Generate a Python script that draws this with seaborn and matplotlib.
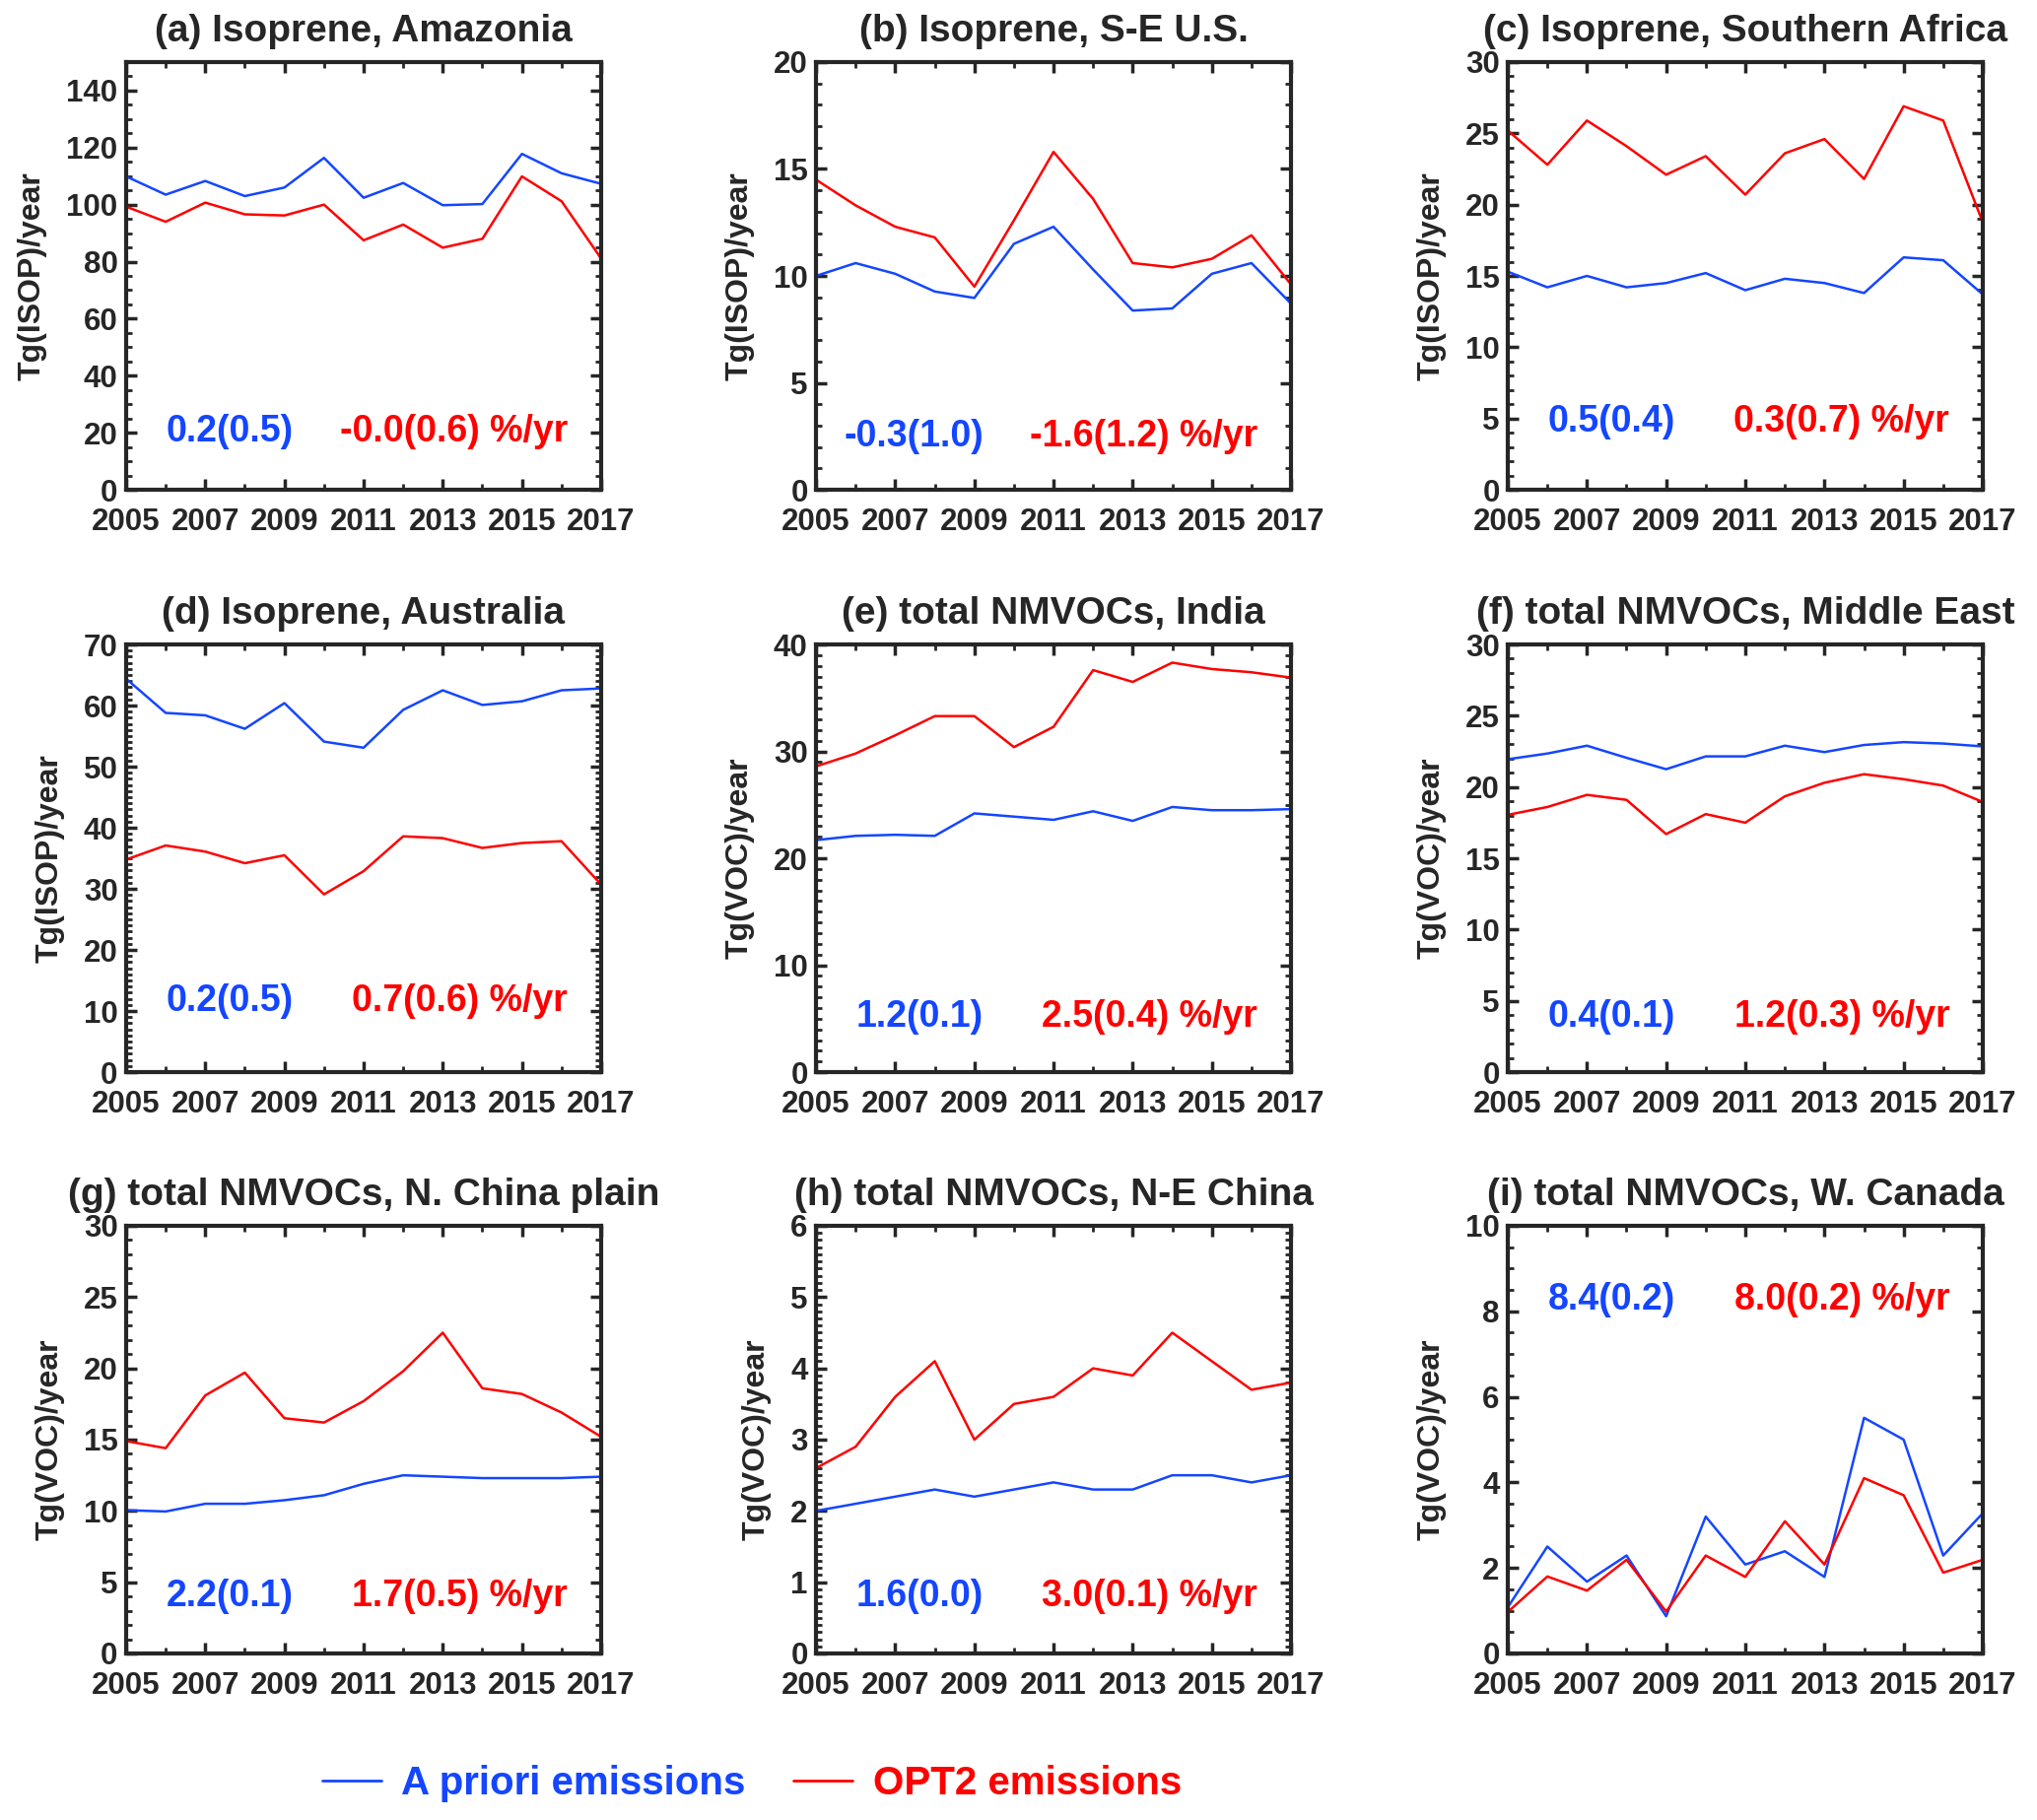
import pandas as pd
import seaborn as sns
import matplotlib.pyplot as plt
from matplotlib.ticker import MultipleLocator, FixedLocator

years = list(range(2005, 2018))
year_ticks = years[::2]

titles = ["(a) Isoprene, Amazonia", "(b) Isoprene, S-E U.S.", "(c) Isoprene, Southern Africa",
          "(d) Isoprene, Australia", "(e) total NMVOCs, India", "(f) total NMVOCs, Middle East",
          "(g) total NMVOCs, N. China plain", "(h) total NMVOCs, N-E China", "(i) total NMVOCs, W. Canada"]
ylabels = ["Tg(ISOP)/year"] * 4 + ["Tg(VOC)/year"] * 5

# A priori emissions
apriori_amazonia = [109.9, 103.5, 108.3, 103.0, 106.0, 116.4, 102.4, 107.6, 99.8, 100.2, 117.8, 111.0, 107.3]
apriori_se_us = [10.0, 10.6, 10.1, 9.27, 8.97, 11.5, 12.3, 10.3, 8.38, 8.48, 10.1, 10.6, 8.7]
apriori_s_africa = [15.3, 14.2, 15.0, 14.2, 14.5, 15.2, 14.0, 14.8, 14.5, 13.8, 16.3, 16.1, 13.7]
apriori_australia = [64.4, 58.8, 58.4, 56.2, 60.4, 54.1, 53.1, 59.3, 62.5, 60.1, 60.7, 62.5, 62.8]
apriori_india = [21.7, 22.1, 22.2, 22.1, 24.2, 23.9, 23.6, 24.4, 23.5, 24.8, 24.5, 24.5, 24.6]
apriori_mideast = [21.95, 22.35, 22.9, 22.05, 21.25, 22.15, 22.15, 22.9, 22.45, 22.95, 23.15, 23.05, 22.85]
apriori_ncp = [10.05, 9.96, 10.5, 10.5, 10.75, 11.1, 11.9, 12.5, 12.4, 12.3, 12.3, 12.3, 12.4]
apriori_ne_china = [2.0, 2.1, 2.2, 2.3, 2.2, 2.3, 2.4, 2.3, 2.3, 2.5, 2.5, 2.4, 2.5]
apriori_w_canada = [1.08, 2.5, 1.68, 2.29, 0.87, 3.2, 2.08, 2.39, 1.79, 5.51, 5.0, 2.29, 3.28]

# OPT2 emissions
opt2_amazonia = [99.3, 94.0, 100.7, 96.6, 96.2, 100.0, 87.5, 93.0, 84.9, 88.0, 109.9, 101.2, 81.1]
opt2_se_us = [14.5, 13.3, 12.3, 11.8, 9.5, 12.6, 15.8, 13.6, 10.6, 10.4, 10.8, 11.9, 9.6]
opt2_s_africa = [25.2, 22.8, 25.9, 24.1, 22.1, 23.4, 20.7, 23.6, 24.6, 21.8, 26.9, 25.9, 18.75]
opt2_australia = [34.8, 37.1, 36.1, 34.2, 35.5, 29.1, 32.9, 38.6, 38.3, 36.7, 37.5, 37.8, 30.7]
opt2_india = [28.6, 29.8, 31.5, 33.3, 33.3, 30.4, 32.3, 37.6, 36.5, 38.3, 37.7, 37.4, 36.9]
opt2_mideast = [18.05, 18.6, 19.45, 19.1, 16.7, 18.1, 17.5, 19.35, 20.3, 20.9, 20.55, 20.1, 18.95]
opt2_ncp = [14.9, 14.4, 18.1, 19.7, 16.5, 16.2, 17.7, 19.8, 22.5, 18.6, 18.2, 16.9, 15.2]
opt2_ne_china = [2.6, 2.9, 3.6, 4.1, 3.0, 3.5, 3.6, 4.0, 3.9, 4.5, 4.1, 3.7, 3.8]
opt2_w_canada = [0.97, 1.8, 1.47, 2.19, 0.98, 2.29, 1.79, 3.09, 2.08, 4.1, 3.7, 1.89, 2.19]

# trends in %/yr (std)
trend_apriori = ["0.2(0.5)", "-0.3(1.0)", "0.5(0.4)", "0.2(0.5)", "1.2(0.1)",
                 "0.4(0.1)", "2.2(0.1)", "1.6(0.0)", "8.4(0.2)"]
trend_opt2 = ["-0.0(0.6)", "-1.6(1.2)", "0.3(0.7)", "0.7(0.6)", "2.5(0.4)",
              "1.2(0.3)", "1.7(0.5)", "3.0(0.1)", "8.0(0.2)"]

apriori = [apriori_amazonia, apriori_se_us, apriori_s_africa, apriori_australia, apriori_india,
           apriori_mideast, apriori_ncp, apriori_ne_china, apriori_w_canada]
opt2 = [opt2_amazonia, opt2_se_us, opt2_s_africa, opt2_australia, opt2_india,
        opt2_mideast, opt2_ncp, opt2_ne_china, opt2_w_canada]

# axis settings
ytops = [150, 20, 30, 70, 40, 30, 30, 6, 10]
ymajor = [20, 5, 5, 10, 10, 5, 5, 1, 2]
yminor = [5, 1, 1, 1, 1, 1, 1, 0.1, 0.5]
text_y = [0.135, 0.125, 0.158, 0.167, 0.13, 0.13, 0.133, 0.133, 0.826]

blue = "#1446ff"
red = "#ff0000"
palette = {"A priori emissions": blue, "OPT2 emissions": red}

sns.set_style("ticks")
plt.rcParams['font.family'] = ['Liberation Sans', 'DejaVu Sans']
plt.rcParams['font.weight'] = 'bold'
plt.rcParams['axes.labelweight'] = 'bold'
plt.rcParams['axes.titleweight'] = 'bold'

fig = plt.figure(figsize=(20.67, 18.47), dpi=100)
lefts = [0.0619, 0.4006, 0.7402]
bottoms = [0.7309, 0.4109, 0.0915]
w, h = 0.2332, 0.235

handles = None
for i in range(9):
    r, c = divmod(i, 3)
    ax = fig.add_axes([lefts[c], bottoms[r], w, h])
    df = pd.DataFrame({
        "year": years * 2,
        "value": apriori[i] + opt2[i],
        "run": ["A priori emissions"] * len(years) + ["OPT2 emissions"] * len(years),
    })
    sns.lineplot(data=df, x="year", y="value", hue="run", palette=palette,
                 linewidth=1.8, ax=ax, legend=(i == 0))
    if i == 0:
        handles, labels = ax.get_legend_handles_labels()
        ax.get_legend().remove()

    ax.set_xlim(2005, 2017)
    ax.set_ylim(0, ytops[i])
    ax.xaxis.set_major_locator(FixedLocator(year_ticks))
    ax.xaxis.set_minor_locator(MultipleLocator(1))
    ax.yaxis.set_major_locator(MultipleLocator(ymajor[i]))
    ax.yaxis.set_minor_locator(MultipleLocator(yminor[i]))
    ax.tick_params(which='both', direction='in', top=True, right=True, labelsize=22.5)
    ax.tick_params(which='major', length=8, width=2.5)
    ax.tick_params(which='minor', length=4, width=2)
    ax.tick_params(axis='y', pad=6)
    ax.tick_params(axis='x', pad=13)
    for s in ax.spines.values():
        s.set_linewidth(3)

    ax.set_title(titles[i], fontsize=28, pad=15)
    ax.set_xlabel("")
    ax.set_ylabel(ylabels[i], fontsize=23, labelpad=14)

    ax.text(0.353, text_y[i], trend_apriori[i], transform=ax.transAxes, ha='right', va='center',
            color=blue, fontsize=27, fontweight='bold')
    ax.text(0.93, text_y[i], trend_opt2[i] + " %/yr", transform=ax.transAxes, ha='right', va='center',
            color=red, fontsize=27, fontweight='bold')

leg = fig.legend(handles, labels, loc='center', bbox_to_anchor=(0.369, 0.02), ncol=2,
                 frameon=False, fontsize=29, handlelength=1.5, handletextpad=0.5,
                 columnspacing=1.2, labelcolor='linecolor')
for line in leg.get_lines():
    line.set_linewidth(2)

fig.savefig("out.png", dpi=100)
